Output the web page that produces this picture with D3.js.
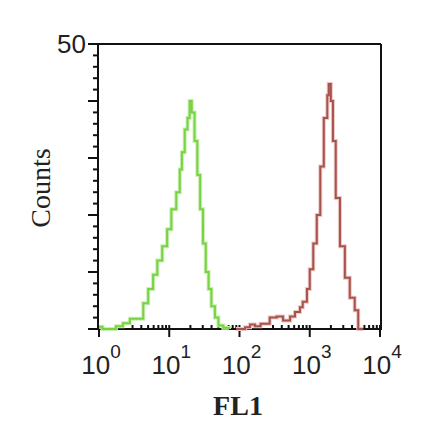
<!DOCTYPE html>
<html><head><meta charset="utf-8">
<script src="https://cdn.jsdelivr.net/npm/d3@7"></script>
<style>html,body{margin:0;padding:0;background:#fff;}</style>
</head><body>
<script>
// Green histogram: log10(FL1) bin starts and counts
const greenLog = [0.00,0.05,0.24,0.34,0.44,0.63,0.70,0.77,0.83,0.90,0.97,1.03,1.10,1.15,1.18,1.22,1.26,1.29,1.32,1.36,1.40,1.44,1.48,1.52,1.56,1.60,1.65,1.70,1.77,1.85];
const greenCounts = [0.4,0,0.5,1.0,1.8,4.5,7.0,9.5,12,14.5,17.5,21,24,28,31,35,37,40,38,33,27,21,15,10,7,4,2,0.6,0.2,0];
// Red histogram
const redLog = [1.95,2.08,2.15,2.22,2.30,2.43,2.53,2.62,2.72,2.79,2.86,2.90,2.96,3.00,3.05,3.10,3.15,3.20,3.25,3.27,3.30,3.33,3.37,3.43,3.50,3.57,3.64,3.69,3.76];
const redCounts = [0,0.3,0.8,0.5,0.9,2.0,2.2,1.5,2.2,3.0,3.8,4.8,7.0,10.5,15,20,28.5,37,41,43,40,33,23,14.5,9,5.5,3.3,0,0];
const xTickExps = [0,1,2,3,4];
const yTickLabels = [50];
const xTitle = "FL1";
const yTitle = "Counts";

const W = 440, H = 441;
const svg = d3.select("body").append("svg").attr("width", W).attr("height", H);
const x = d3.scaleLog().domain([1, 1e4]).range([99, 380]);
const y = d3.scaleLinear().domain([0, 50]).range([329, 44]);

// box top/right
svg.append("line").attr("x1", 98).attr("x2", 381).attr("y1", y(50)).attr("y2", y(50)).attr("stroke", "#111").attr("stroke-width", 2);
svg.append("line").attr("x1", 381).attr("x2", 381).attr("y1", y(50)).attr("y2", y(0)).attr("stroke", "#111").attr("stroke-width", 2);

// Y axis
const yMinor = d3.range(0, 51, 2);
svg.append("g").selectAll("line").data(yMinor).join("line")
  .attr("x1", d => d % 10 === 0 ? 88 : 93).attr("x2", 98)
  .attr("y1", d => y(d)).attr("y2", d => y(d))
  .attr("stroke", "#111").attr("stroke-width", 2);
svg.append("line").attr("x1", 98).attr("x2", 98).attr("y1", y(50) - 1).attr("y2", y(0) + 1).attr("stroke", "#111").attr("stroke-width", 2);
svg.append("g").selectAll("text").data(yTickLabels).join("text")
  .attr("x", 86).attr("y", d => y(d) + 9)
  .attr("text-anchor", "end").attr("font-family", "Liberation Sans, Arial, sans-serif")
  .attr("font-size", 26).attr("fill", "#222").text(d => d);

// X axis
svg.append("line").attr("x1", 97).attr("x2", 382).attr("y1", y(0)).attr("y2", y(0)).attr("stroke", "#111").attr("stroke-width", 2);
const minors = [];
for (let e = 0; e < 4; e++) for (let m = 2; m <= 9; m++) minors.push(m * Math.pow(10, e));
svg.append("g").selectAll("line").data(minors).join("line")
  .attr("x1", d => x(d)).attr("x2", d => x(d))
  .attr("y1", y(0)).attr("y2", y(0) - 4)
  .attr("stroke", "#111").attr("stroke-width", 2);
svg.append("g").selectAll("line").data(xTickExps).join("line")
  .attr("x1", d => x(Math.pow(10, d))).attr("x2", d => x(Math.pow(10, d)))
  .attr("y1", y(0) - 4).attr("y2", y(0) + 8)
  .attr("stroke", "#111").attr("stroke-width", 2);
const xl = svg.append("g").selectAll("text").data(xTickExps).join("text")
  .attr("x", d => x(Math.pow(10, d)) + 2).attr("y", 374)
  .attr("text-anchor", "middle").attr("font-family", "Liberation Sans, Arial, sans-serif")
  .attr("font-size", 26).attr("fill", "#222");
xl.append("tspan").text("10");
xl.append("tspan").attr("font-size", 19).attr("dy", -16).text(d => d);

// titles
svg.append("text").attr("x", 238).attr("y", 415).attr("text-anchor", "middle")
  .attr("font-family", "Liberation Serif, Times New Roman, serif").attr("font-size", 28)
  .attr("font-weight", "bold").attr("fill", "#222").text(xTitle);
svg.append("text").attr("transform", "translate(50,188) rotate(-90)").attr("text-anchor", "middle")
  .attr("font-family", "Liberation Serif, Times New Roman, serif").attr("font-size", 28)
  .attr("fill", "#222").text(yTitle);

// histograms
const line = d3.line().curve(d3.curveStepAfter).x(d => x(Math.pow(10, d[0]))).y(d => y(d[1]));
const gData = greenLog.map((v, i) => [v, greenCounts[i]]);
const rData = redLog.map((v, i) => [v, redCounts[i]]);
svg.append("path").datum(gData).attr("d", line).attr("fill", "none")
  .attr("stroke", "#c9f0b0").attr("stroke-width", 4);
svg.append("path").datum(gData).attr("d", line).attr("fill", "none")
  .attr("stroke", "#78d245").attr("stroke-width", 2);
svg.append("path").datum(rData).attr("d", line).attr("fill", "none")
  .attr("stroke", "#ecc8c5").attr("stroke-width", 4);
svg.append("path").datum(rData).attr("d", line).attr("fill", "none")
  .attr("stroke", "#a8524c").attr("stroke-width", 2);
</script>
</body></html>
